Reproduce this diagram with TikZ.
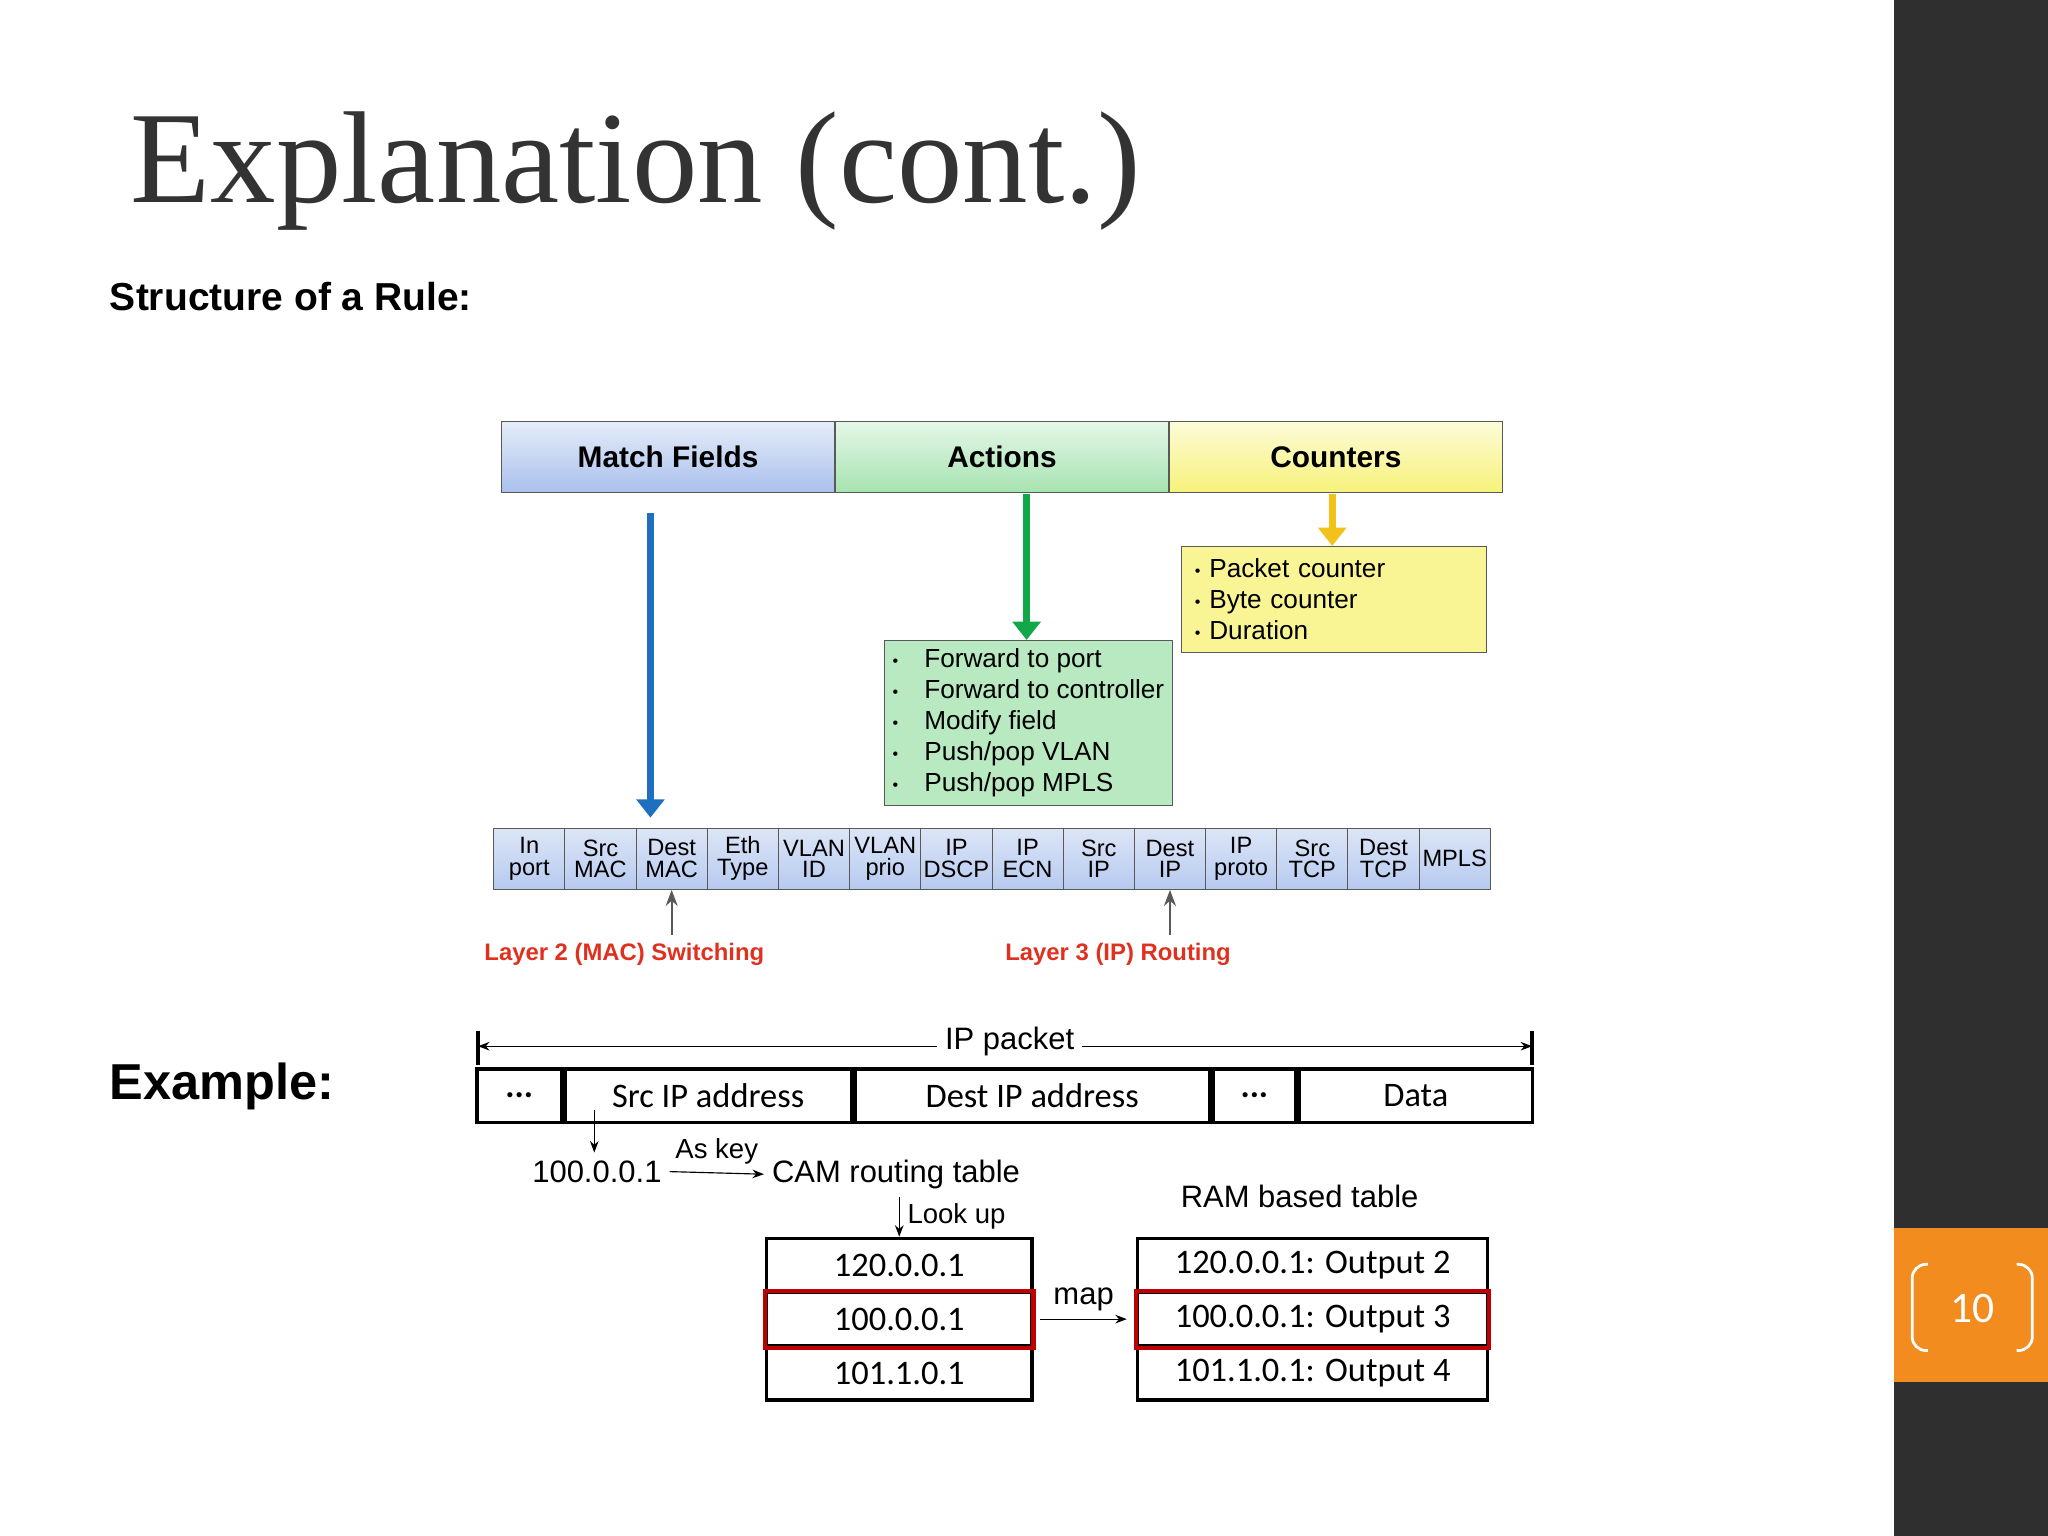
\documentclass[tikz,border=0pt]{standalone}
\usepackage{fontspec}
\setmainfont{Liberation Sans}
\newfontfamily\titlefont{Liberation Serif}
\newfontfamily\calfont{Carlito}
\usetikzlibrary{positioning,
                arrows.meta}              % arrow tips
\definecolor{sidegray}{HTML}{2F2F2F}
\definecolor{pageorange}{HTML}{F28C1E}
\definecolor{arrowblue}{HTML}{1F6FC0}
\definecolor{arrowgreen}{HTML}{12A84A}
\definecolor{arrowyellow}{HTML}{F2C21A}
\definecolor{labelred}{HTML}{E0301E}
\definecolor{boxred}{HTML}{C00000}
\definecolor{hdrblue}{HTML}{A9C0EC}
\definecolor{hdrgreen}{HTML}{A6E3B0}
\definecolor{hdryellow}{HTML}{F7F27A}
\newcommand{\bul}{\raisebox{0.1ex}{\scriptsize\textbullet}}
\tikzset{
  header/.style={draw=gray!70!black, minimum height=1.08cm, minimum width=5.1cm, font=\fontsize{13}{15}\selectfont\bfseries},
  field/.style={draw=gray!70!black, top color=hdrblue!40, bottom color=hdrblue!85, minimum height=0.94cm, minimum width=1.09cm,
                inner sep=0pt, align=center, font=\fontsize{10.3}{9.5}\selectfont},
  listbox/.style={draw=gray!70!black, align=left, anchor=north west, inner sep=3pt, font=\fontsize{11.4}{13.5}\selectfont},
  cell/.style={draw, line width=1.5pt, minimum height=0.82cm, inner sep=0pt, font=\calfont\fontsize{15}{17}\selectfont},
  fat/.style={-{Triangle[length=8pt,width=12pt]}, line width=3pt},
  pointer/.style={-{Stealth[length=5pt]}, line width=0.5pt},
  plain/.style={font=\fontsize{13.5}{16}\selectfont},
}
\begin{document}
\begin{tikzpicture}[x=0.02cm, y=-0.02cm]
  \useasboundingbox (0,0) rectangle (1568,1176);
  % side band
  \fill[sidegray] (1450,0) rectangle (1568,1176);
  \fill[pageorange] (1450,940) rectangle (1568,1058);
  \draw[white, line width=1.2pt, rounded corners=6pt] (1476,968) -- (1464,968) -- (1464,1034) -- (1476,1034);
  \draw[white, line width=1.2pt, rounded corners=6pt] (1544,968) -- (1556,968) -- (1556,1034) -- (1544,1034);
  \node[white, font=\calfont\fontsize{19}{20}\selectfont] (pagenum) at (1510,1002) {10};

  \node[anchor=base west, text=black!80, font=\titlefont\fontsize{57}{60}\selectfont] (title) at (94,155) {Explanation (cont.)};
  \node[anchor=base west, font=\fontsize{17}{19}\selectfont\bfseries] (structure) at (78,238) {Structure of a Rule:};

  % rule header
  \node[header, top color=hdrblue!30, bottom color=hdrblue] (match) at (511.5,350) {Match Fields};
  \node[header, top color=hdrgreen!30, bottom color=hdrgreen, right=0pt of match] (actions) {Actions};
  \node[header, top color=hdryellow!30, bottom color=hdryellow, right=0pt of actions] (counters) {Counters};

  \node[listbox, fill=hdryellow!80, text width=4.26cm, minimum height=1.62cm, inner xsep=6pt] (cntlist) at (904,418)
    {\bul\ Packet counter\\ \bul\ Byte counter\\ \bul\ Duration};
  \node[listbox, fill=hdrgreen!80, minimum width=4.4cm, minimum height=2.52cm] (actlist) at (677,490)
    {\bul\quad Forward to port\\ \bul\quad Forward to controller\\ \bul\quad Modify field\\ \bul\quad Push/pop VLAN\\ \bul\quad Push/pop MPLS};

  % header fields
  \foreach \lab [count=\i] in {In\\port, Src\\MAC, Dest\\MAC, Eth\\Type, VLAN\\ID, VLAN\\prio, IP\\DSCP,
                               IP\\ECN, Src\\IP, Dest\\IP, IP\\proto, Src\\TCP, Dest\\TCP, MPLS}
    \node[field] (f\i) at ({378+(\i-0.5)*54.5},657.5) {\lab};

  \coordinate (blueTop) at (498,393);
  \coordinate (blueEnd) at (498,626);
  \coordinate (greenTop) at (786,378);
  \coordinate (yellowTop) at (1020,378);
  \draw[fat, arrowblue] (blueTop) -- (blueEnd);
  \draw[fat, arrowgreen] (greenTop) -- (greenTop |- actlist.north);
  \draw[fat, arrowyellow] (yellowTop) -- (yellowTop |- cntlist.north);

  \node[labelred, font=\fontsize{10.4}{12}\selectfont\bfseries] (l2) at (478,731) {Layer 2 (MAC) Switching};
  \node[labelred, font=\fontsize{10.4}{12}\selectfont\bfseries] (l3) at (856,731) {Layer 3 (IP) Routing};
  \draw[-{Stealth[length=7pt]}, gray!70!black, thick] (f3.south |- 0,716) -- (f3.south);
  \draw[-{Stealth[length=7pt]}, gray!70!black, thick] (f10.south |- 0,716) -- (f10.south);

  % example
  \node[anchor=base west, font=\fontsize{22}{24}\selectfont\bfseries] (example) at (78,842) {Example:};

  \node[cell, minimum width=1.29cm, anchor=north west] (p1) at (364,817) {\textbf{...}};
  \node[cell, minimum width=4.39cm, right=0pt of p1] (p2) {Src IP address};
  \node[cell, minimum width=5.43cm, right=0pt of p2] (p3) {Dest IP address};
  \node[cell, minimum width=1.27cm, right=0pt of p3] (p4) {\textbf{...}};
  \node[cell, minimum width=3.57cm, right=0pt of p4] (p5) {Data};

  \coordinate (pktL) at (366,801);
  \coordinate (pktR) at (1173,801);
  \draw[line width=1.5pt] (366,789) -- (366,815) (1173,789) -- (1173,815);
  \node[plain, fill=white] (pkt) at (773,797) {IP packet};
  \draw[pointer] (pkt.west |- pktL) -- (pktL);
  \draw[pointer] (pkt.east |- pktR) -- (pktR);

  \node[plain] (key) at (457,897) {100.0.0.1};
  \coordinate (keyTop) at (455,850);
  \draw[pointer] (keyTop) -- (keyTop |- key.north);
  \node[plain] (cam) at (686,899) {CAM routing table};
  \draw[pointer] (key.east) -- node[above, font=\fontsize{12}{14}\selectfont] {As key} (cam.west);

  \foreach \addr [count=\i] in {120.0.0.1, 100.0.0.1, 101.1.0.1}
    \node[cell, minimum width=4.06cm] (c\i) at (688.5,{948+(\i-0.5)*41.3}) {\addr};
  \draw[boxred, line width=1.8pt] (c2.north west) rectangle (c2.south east);
  \draw[pointer] (cam.south -| c1.north) -- node[right, font=\fontsize{12}{14}\selectfont] {Look up} (c1.north);

  \node[plain] (ram) at (995,916) {RAM based table};
  \foreach \out [count=\i] in {120.0.0.1: Output 2, 100.0.0.1: Output 3, 101.1.0.1: Output 4}
    \node[cell, minimum width=5.36cm] (r\i) at (1005,{948+(\i-0.5)*41.3}) {\out};
  \draw[boxred, line width=1.8pt] (r2.north west) rectangle (r2.south east);
  \draw[pointer] ([xshift=3]c2.east) -- node[above, plain] {map} ([xshift=-4]r2.west);
\end{tikzpicture}
\end{document}
